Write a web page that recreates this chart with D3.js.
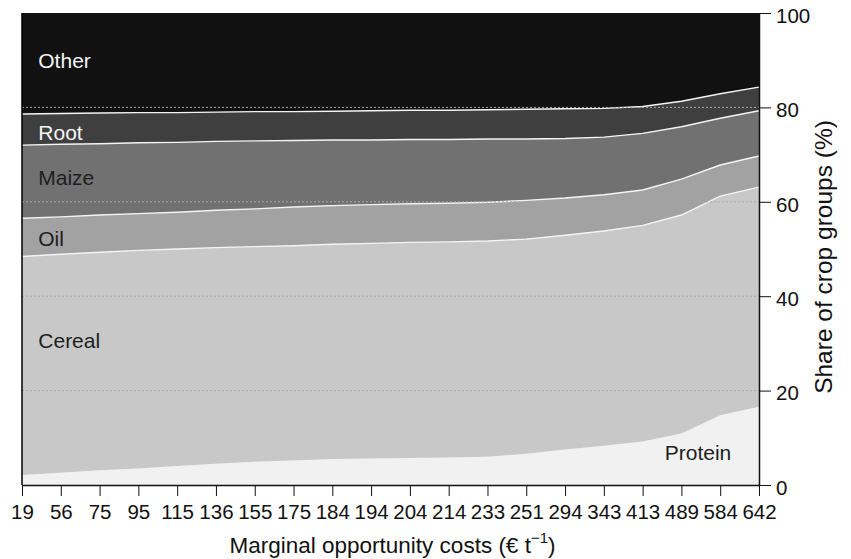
<!DOCTYPE html>
<html>
<head>
<meta charset="utf-8">
<script src="https://cdn.jsdelivr.net/npm/d3@7"></script>
<style>
  body { margin: 0; background: #fff; }
  svg { font-family: "Liberation Sans", Arial, Helvetica, sans-serif; }
</style>
</head>
<body>
<script>
// marginal opportunity costs (EUR per t), shown as equally spaced categories
const costs = [19, 56, 75, 95, 115, 136, 155, 175, 184, 194, 204, 214, 233, 251, 294, 343, 413, 489, 584, 642];

// share of each crop group (%)
const protein = [2.1, 2.6, 3.1, 3.5, 4.0, 4.5, 4.9, 5.2, 5.5, 5.6, 5.7, 5.8, 6.0, 6.6, 7.5, 8.3, 9.2, 10.9, 14.8, 16.6];
const cereal  = [46.3, 46.3, 46.2, 46.2, 46.0, 45.8, 45.6, 45.5, 45.5, 45.6, 45.7, 45.7, 45.7, 45.5, 45.4, 45.5, 45.8, 46.3, 46.4, 46.5];
const oil     = [8.1, 7.9, 7.9, 7.8, 7.8, 7.9, 8.0, 8.2, 8.2, 8.2, 8.2, 8.2, 8.2, 8.2, 7.9, 7.7, 7.5, 7.6, 6.6, 6.6];
const maize   = [15.5, 15.4, 15.1, 15.0, 14.8, 14.6, 14.4, 14.1, 13.9, 13.7, 13.6, 13.5, 13.4, 13.0, 12.6, 12.2, 12.0, 11.1, 9.9, 9.6];
const root    = [6.6, 6.5, 6.5, 6.4, 6.3, 6.2, 6.2, 6.1, 6.1, 6.2, 6.2, 6.2, 6.2, 6.3, 6.3, 6.1, 5.7, 5.4, 5.2, 5.0];
const other   = [21.4, 21.3, 21.2, 21.1, 21.1, 21.0, 20.9, 20.9, 20.8, 20.7, 20.6, 20.6, 20.5, 20.4, 20.3, 20.2, 19.8, 18.7, 17.1, 15.7];

const yTicks = [0, 20, 40, 60, 80, 100];
const gridTicks = [20, 40, 60, 80];

const groups = ["Protein", "Cereal", "Oil", "Maize", "Root", "Other"];
const series = [protein, cereal, oil, maize, root, other];
const fills  = ["#f1f1f1", "#c8c8c8", "#a2a2a2", "#717171", "#3f3f3f", "#111111"];

// label anchors: category index and share level (%)
const labels = [
    {name: "Other",   i: 0.42, v: 89.8, color: "#f4f4f4"},
    {name: "Root",    i: 0.42, v: 74.7, color: "#f4f4f4"},
    {name: "Maize",   i: 0.42, v: 65.1, color: "#1e1e1e"},
    {name: "Oil",     i: 0.42, v: 52.1, color: "#1e1e1e"},
    {name: "Cereal",  i: 0.42, v: 30.5, color: "#1e1e1e"},
    {name: "Protein", i: 16.57, v: 6.8, color: "#1e1e1e"},
];

const W = 851, H = 559;
const margin = {top: 13, right: 92, bottom: 74, left: 22};
const width  = W - margin.left - margin.right,
      height = H - margin.top - margin.bottom;

const table = costs.map((c, i) => {
    const row = {cost: c};
    groups.forEach((g, k) => row[g] = series[k][i]);
    return row;
});

const x = d3.scalePoint()
    .domain(costs)
    .range([0, width]);

const xi = d3.scaleLinear()
    .domain([0, costs.length - 1])
    .range([0, width]);

const y = d3.scaleLinear()
    .domain([0, 100])
    .range([height, 0]);

const stacked = d3.stack().keys(groups)(table);

const svg = d3.select("body").append("svg")
    .attr("width", W)
    .attr("height", H)
    .append("g")
    .attr("transform", `translate(${margin.left},${margin.top})`);

const area = d3.area()
    .x(d => x(d.data.cost))
    .y0(d => y(d[0]))
    .y1(d => y(d[1]));

svg.selectAll(".layer")
    .data(stacked)
    .enter().append("path")
    .attr("class", "layer")
    .attr("fill", (d, k) => fills[k])
    .attr("d", area);

// white boundaries between layers (none on top of protein)
const edge = d3.line()
    .x(d => x(d.data.cost))
    .y(d => y(d[1]));

svg.selectAll(".edge")
    .data(stacked.slice(1, 5))
    .enter().append("path")
    .attr("class", "edge")
    .attr("fill", "none")
    .attr("stroke", "#f4f4f4")
    .attr("stroke-width", 1.4)
    .attr("d", edge);

svg.selectAll(".grid")
    .data(gridTicks)
    .enter().append("line")
    .attr("class", "grid")
    .attr("x1", 0)
    .attr("x2", width)
    .attr("y1", d => y(d))
    .attr("y2", d => y(d))
    .attr("stroke", "#a8a8a8")
    .attr("stroke-width", 1)
    .attr("stroke-dasharray", "2,2");

svg.selectAll(".lbl")
    .data(labels)
    .enter().append("text")
    .attr("class", "lbl")
    .attr("x", d => xi(d.i))
    .attr("y", d => y(d.v))
    .attr("dy", "0.35em")
    .attr("fill", d => d.color)
    .style("font-size", "21px")
    .text(d => d.name);

// axes
const xAxis = svg.append("g")
    .attr("transform", `translate(0,${height})`)
    .call(d3.axisBottom(x).tickSize(11).tickSizeOuter(0).tickPadding(8));

const yAxis = svg.append("g")
    .attr("transform", `translate(${width},0)`)
    .call(d3.axisRight(y).tickValues(yTicks).tickSize(12).tickSizeOuter(0).tickPadding(5));

svg.append("line")
    .attr("x1", 0).attr("x2", 0)
    .attr("y1", 0).attr("y2", height)
    .attr("stroke", "#000")
    .attr("stroke-width", 1.5);

[xAxis, yAxis].forEach(a => {
    a.selectAll("text")
        .style("font-size", "20.5px")
        .attr("fill", "#111")
        .style("font-family", "'Liberation Sans', Arial, sans-serif");
    a.selectAll("line").attr("stroke", "#111");
    a.select(".domain").attr("stroke", "#111").attr("stroke-width", 1.5);
});
yAxis.selectAll("text").attr("dy", "0.45em");

const xt = svg.append("text")
    .attr("x", width / 2 + 2)
    .attr("y", height + 68)
    .attr("text-anchor", "middle")
    .attr("fill", "#111")
    .style("font-size", "22.5px");
xt.append("tspan").text("Marginal opportunity costs (€ t");
xt.append("tspan").attr("dy", -10).style("font-size", "15px").text("−1");
xt.append("tspan").attr("dy", 10).text(")");

svg.append("text")
    .attr("transform", `translate(${width + 73},${y(50) + 8}) rotate(-90)`)
    .attr("text-anchor", "middle")
    .attr("fill", "#111")
    .style("font-size", "24.5px")
    .text("Share of crop groups (%)");
</script>
</body>
</html>
